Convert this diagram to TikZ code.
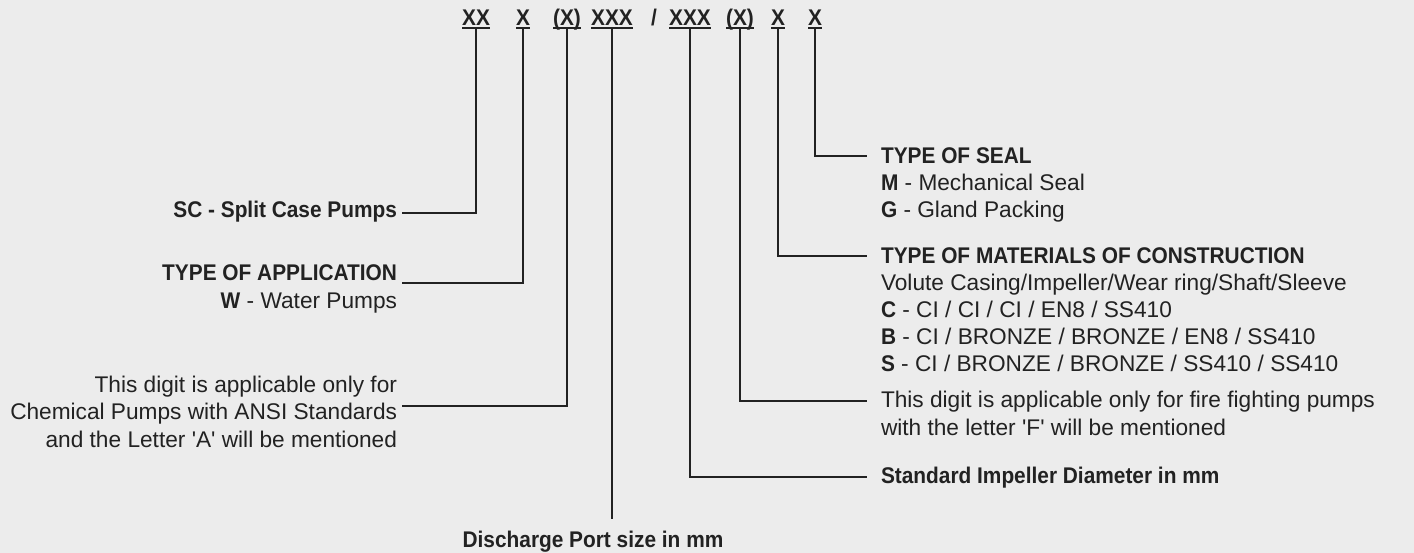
\documentclass[tikz,border=0pt]{standalone}
\usepackage{fontspec}
\setmainfont{Liberation Sans}[BoldFeatures={FakeStretch=0.92}]
\usetikzlibrary{calc}
\definecolor{bgray}{RGB}{236,236,236}
\definecolor{ink}{RGB}{34,34,34}

\begin{document}
\begin{tikzpicture}[x=0.75pt,y=0.75pt,yscale=-1,
  every node/.style={inner sep=0pt,outer sep=0pt,text=ink,font=\fontsize{17}{20.3}\selectfont},
  code/.style={anchor=base,font=\fontsize{17}{20.3}\selectfont\bfseries},
  lbl/.style={align=left,anchor=base west},
  lblr/.style={align=right,anchor=base east},
  lead/.style={draw=ink,line width=0.8pt},
  uline/.style={draw=ink,line width=1.6pt}]
  \fill[bgray] (0,0) rectangle (1414,553);
  \useasboundingbox (0,0) rectangle (1414,553);

  % model code
  \node[code] (cSC) at (476,25) {XX};
  \node[code] (cApp) at (523,25) {X};
  \node[code] (cChem) at (567,25) {(X)};
  \node[code] (cPort) at (612,25) {XXX};
  \node[code] (slash) at (654,25) {/};
  \node[code] (cImp) at (690,25) {XXX};
  \node[code] (cFire) at (740,25) {(X)};
  \node[code] (cMat) at (778,25) {X};
  \node[code] (cSeal) at (815,25) {X};
  \foreach \c in {cSC,cApp,cChem,cPort,cImp,cFire,cMat,cSeal}
    \draw[uline] ($(\c.base west)+(0,3)$) -- ($(\c.base east)+(0,3)$);

  % left side (base = last line)
  \node[lblr] (sc) at (397,217) {\bfseries SC - Split Case Pumps};
  \node[lblr] (app) at (397,308) {\textbf{TYPE OF APPLICATION}\\\textbf{W} - Water Pumps};
  \node[lblr] (chem) at (397,447) {This digit is applicable only for\\Chemical Pumps with ANSI Standards\\and the Letter \textquotesingle A\textquotesingle{} will be mentioned};
  \node[anchor=base] (port) at (593,547) {\bfseries Discharge Port size in mm};

  % right side (base = last line)
  \node[lbl] (seal) at (881,217.5) {\textbf{TYPE OF SEAL}\\\textbf{M} - Mechanical Seal\\\textbf{G} - Gland Packing};
  \node[lbl] (mat) at (881,371.5) {\textbf{TYPE OF MATERIALS OF CONSTRUCTION}\\Volute Casing/Impeller/Wear ring/Shaft/Sleeve\\\textbf{C} - CI / CI / CI / EN8 / SS410\\\textbf{B} - CI / BRONZE / BRONZE / EN8 / SS410\\\textbf{S} - CI / BRONZE / BRONZE / SS410 / SS410};
  \node[lbl] (fire) at (881,435) {This digit is applicable only for fire fighting pumps\\with the letter \textquotesingle F\textquotesingle{} will be mentioned};
  \node[lbl] (imp) at (881,483) {\bfseries Standard Impeller Diameter in mm};

  % leaders
  \draw[lead] ($(cSC.base)+(0,4)$) |- ($(sc.base east)+(5,-4)$);
  \draw[lead] ($(cApp.base)+(0,4)$) |- ($(app.base east)+(5,-25)$);
  \draw[lead] ($(cChem.base)+(0,4)$) |- ($(chem.base east)+(5,-41)$);
  \draw[lead] ($(cPort.base)+(0,4)$) -- ($(cPort.base |- port.north)+(0,-12)$);
  \draw[lead] ($(cImp.base)+(0,4)$) |- ($(imp.base west)+(-14,-6)$);
  \draw[lead] ($(cFire.base)+(0,4)$) |- ($(fire.base west)+(-14,-34)$);
  \draw[lead] ($(cMat.base)+(0,4)$) |- ($(mat.base west)+(-14,-115.5)$);
  \draw[lead] ($(cSeal.base)+(0,4)$) |- ($(seal.base west)+(-14,-61.5)$);
\end{tikzpicture}
\end{document}
